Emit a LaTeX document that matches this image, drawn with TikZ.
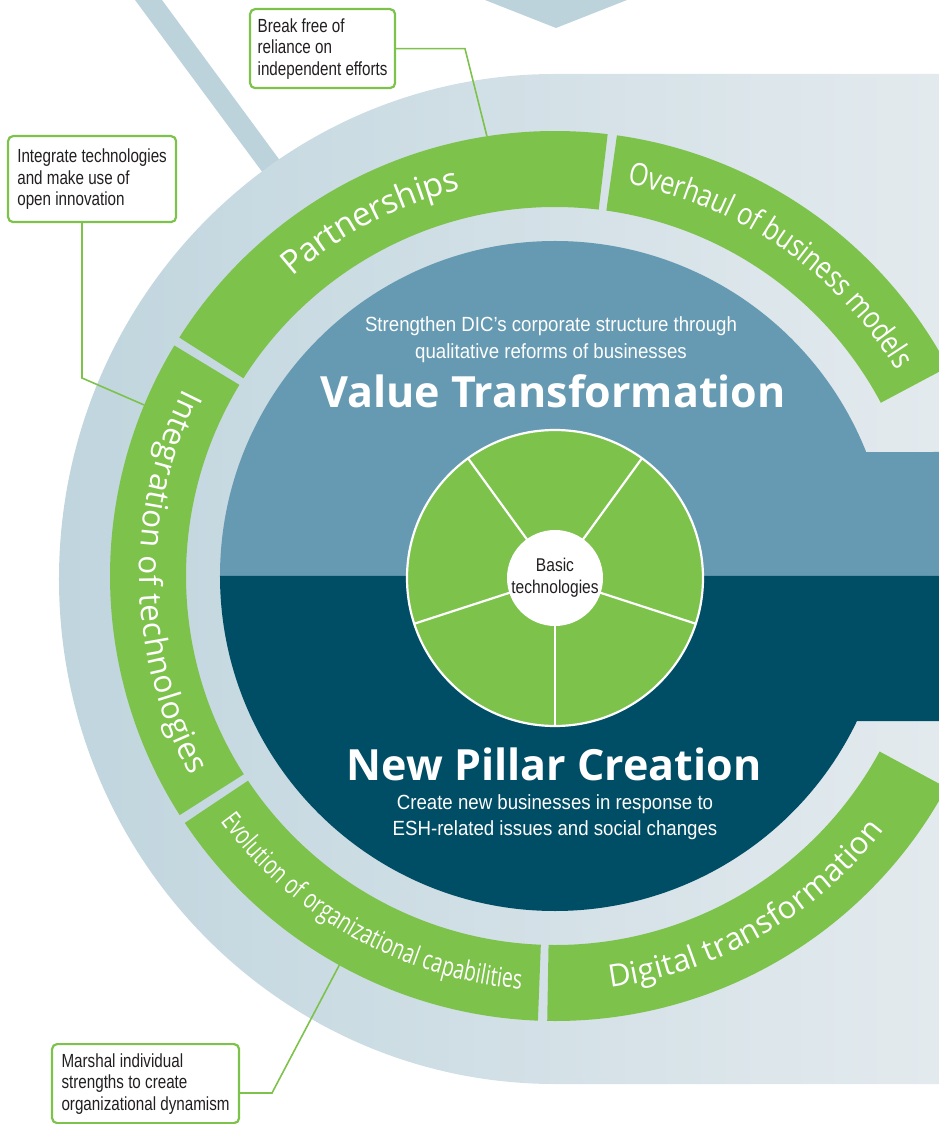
\documentclass[tikz,border=0pt]{standalone}
\usepackage{fontspec}
\setmainfont{Open Sans}
\newfontfamily\labelfont{Open Sans}
\newfontfamily\labelcond[FakeStretch=0.82]{Open Sans}
\newfontfamily\labelnarrow[FakeStretch=0.72]{Open Sans}
\newfontfamily\notefont[FakeStretch=0.8]{Liberation Sans}
\newfontfamily\subfont[FakeStretch=0.91]{Liberation Sans}
\newfontfamily\hubfont[FakeStretch=0.84]{Liberation Sans}
\usetikzlibrary{decorations.text}

\definecolor{ringgreen}{HTML}{7DC24B}
\definecolor{valueblue}{HTML}{659AB2}
\definecolor{pillarblue}{HTML}{004D66}
\definecolor{bandleft}{HTML}{C0D5DE}
\definecolor{bandright}{HTML}{E3EAEE}
\definecolor{stripe}{HTML}{BDD3DC}
\definecolor{ink}{HTML}{231F20}

% annular sector of the green ring, from angle #1 to angle #2
\newcommand\ringsegment[2]{%
  \fill[ringgreen] (#1:445) arc[start angle=#1, end angle=#2, radius=445]
    -- (#2:369) arc[start angle=#2, end angle=#1, radius=369] -- cycle;}

% white label set along the middle of the ring: font, text, start, end, raise
\newcommand\ringlabel[5]{%
  \path[decorate, decoration={text along path, text align=center,
      raise=#5, text color=white, text={|#1|#2}}]
    (#3:407) arc[start angle=#3, end angle=#4, radius=407];}

\begin{document}
\begin{tikzpicture}[x=1pt, y=1pt,
  callout/.style={draw=ringgreen, line width=2.2pt, fill=white,
    rounded corners=5pt, inner xsep=7pt, align=left, anchor=north west,
    text=ink, font=\notefont\fontsize{19}{21.5}\selectfont},
  conn/.style={draw=ringgreen, line width=1.6pt},
  title/.style={anchor=base, text=white,
    font=\bfseries\fontsize{43}{43}\selectfont},
  subtitle/.style={anchor=base, text=white,
    font=\subfont\fontsize{20.5}{26}\selectfont},
  spoke/.style={draw=white, line width=2.2pt}]

\useasboundingbox (-555,-548) rectangle (384,576);

% light stripes running in from the top edge
\fill[stripe] (-420,576) -- (-393,576) -- (-246,376) -- (-272,376) -- cycle;
\fill[stripe] (-70,576) -- (72,576) -- (1,548) -- cycle;

% pale outer band
\shade[left color=bandleft, right color=bandright]
  (0,502) -- (384,502) -- (384,-508) -- (0,-508)
  arc[start angle=-90, end angle=-270, x radius=496, y radius=505] -- cycle;

% two halves of the core
\fill[valueblue] (-335,0) arc[start angle=180, end angle=21.72, radius=335]
  -- (384,124) -- (384,0) -- cycle;
\fill[pillarblue] (-335,0) arc[start angle=180, end angle=334.35, radius=335]
  -- (384,-145) -- (384,0) -- cycle;

% green ring
\ringsegment{28}{82.0}
\ringsegment{83.2}{147.6}
\ringsegment{148.8}{212.5}
\ringsegment{213.7}{267.8}
\ringsegment{269.0}{331.6}

\ringlabel{\labelcond\fontsize{31}{31}\selectfont}{Overhaul of business models}{82}{28.6}{-8.5pt}
\ringlabel{\labelfont\fontsize{33}{33}\selectfont}{Partnerships}{150}{85}{-9pt}
\ringlabel{\labelfont\fontsize{31.5}{31.5}\selectfont}{Integration of technologies}{150}{212}{-8.5pt}
\ringlabel{\labelnarrow\fontsize{27}{27}\selectfont}{Evolution of organizational capabilities}{214}{267.6}{-7.3pt}
\ringlabel{\labelfont\fontsize{31}{31}\selectfont}{Digital transformation}{270}{330}{-8.5pt}

% basic technologies wheel
\fill[ringgreen] (0,-2) circle[radius=148];
\draw[spoke] (0,-2) circle[radius=148];
\foreach \a in {54,126,198,270,342}
  \draw[spoke] ([shift={(\a:46)}]0,-2) -- ([shift={(\a:148)}]0,-2);
\node[circle, fill=white, minimum size=96pt, inner sep=0pt, align=center,
  text=ink, font=\hubfont\fontsize{18.5}{22}\selectfont] (hub) at (0,-2)
  {Basic\\technologies};

% core texts
\node[subtitle] (valueA) at (-4,244.3) {Strengthen DIC’s corporate structure through};
\node[subtitle] (valueB) at (-4,217) {qualitative reforms of businesses};
\node[title] (value) at (-2,168) {Value Transformation};
\node[title] (pillar) at (-1,-204) {New Pillar Creation};
\node[subtitle] (pillarA) at (0,-233) {Create new businesses in response to};
\node[subtitle] (pillarB) at (0,-259) {ESH-related issues and social changes};

% callouts
\node[callout, minimum width=145pt, minimum height=79pt] (boxA) at (-306,568)
  {Break free of\\reliance on\\independent efforts};
\node[callout, minimum width=168pt, minimum height=86pt] (boxB) at (-548,441)
  {Integrate technologies\\and make use of\\open innovation};
\node[callout, minimum width=187pt, minimum height=79pt] (boxC) at (-504,-467)
  {Marshal individual\\strengths to create\\organizational dynamism};

\coordinate (kneeA) at (-90,527);
\coordinate (endA) at (98.8:445);
\coordinate (kneeB) at (-473,198);
\coordinate (endB) at (157.4:445);
\coordinate (kneeC) at (-283,-517);
\coordinate (endC) at (241:445);

\draw[conn] (boxA.east) -- (boxA.east -| kneeA) -- (endA);
\draw[conn] (boxB.south -| kneeB) -- (kneeB) -- (endB);
\draw[conn] (kneeC -| boxC.east) -- (kneeC) -- (endC);

\end{tikzpicture}
\end{document}
